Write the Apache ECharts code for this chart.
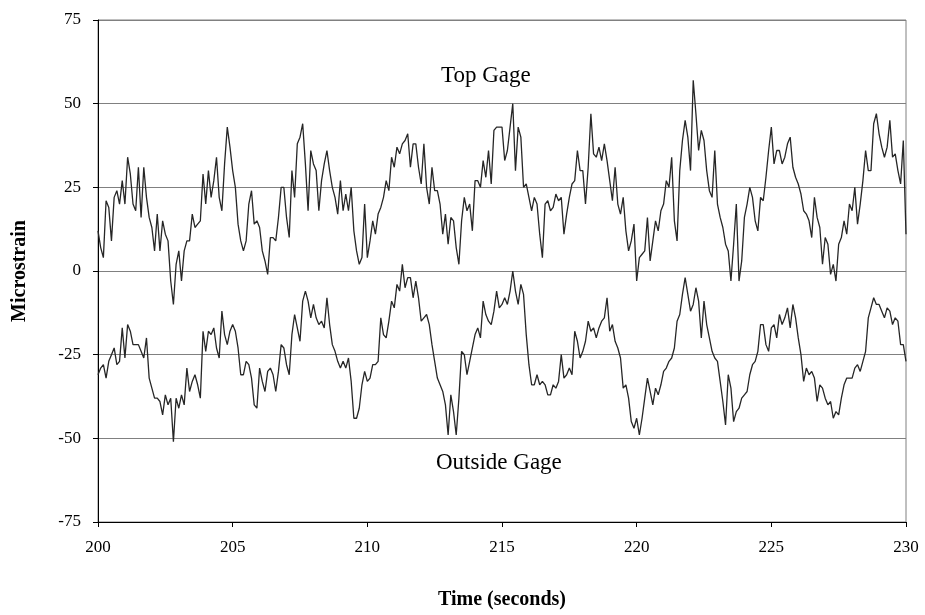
<html>
<head>
    <meta charset="utf-8">
    <title>Microstrain vs time</title>
    <style>
    html, body {
        margin: 0;
        padding: 0;
        background: #ffffff;
    }
    #chart {
        width: 925px;
        height: 615px;
    }
    </style>
    <script src="https://cdn.jsdelivr.net/npm/echarts@6/dist/echarts.min.js"></script>
</head>
<body>
    <div id="chart"></div>
    <script>
    // samples every 0.1 s starting at 200 s
    var startTime = 200;
    var sampleStep = 0.1;
    var yTicks = [-75, -50, -25, 0, 25, 50, 75];
    var xTicks = [200, 205, 210, 215, 220, 225, 230];

    var topGage = [
        12, 7, 4, 21, 19, 9, 22, 24, 20, 27, 20, 34, 29, 20, 18, 31, 16, 31, 22, 16,
        13, 6, 17, 6, 15, 11, 9, -3, -10, 2, 6, -3, 6, 9, 9, 17, 13, 14, 15, 29,
        20, 30, 22, 27, 34, 22, 18, 32, 43, 37,
        30, 25, 14, 9, 6, 9, 20, 24, 14, 15, 13, 6, 3, -1, 10, 10, 9, 16, 25, 25,
        16, 10, 30, 22, 38, 40, 44, 32, 18, 36, 32, 30, 18, 27, 32, 36, 30, 25, 22, 17,
        27, 18, 23, 18, 25, 12, 6, 2, 4, 20,
        4, 9, 15, 11, 17, 19, 22, 27, 24, 34, 31, 37, 35, 38, 39, 41, 31, 38, 38, 31,
        26, 38, 25, 20, 31, 24, 24, 20, 11, 17, 8, 16, 15, 7, 2, 15, 22, 18, 20, 12,
        27, 27, 25, 33, 28, 36, 26, 42, 43, 43,
        43, 33, 36, 43, 50, 30, 43, 40, 25, 26, 22, 18, 22, 20, 11, 4, 20, 21, 18, 19,
        23, 21, 22, 11, 17, 22, 26, 27, 36, 30, 30, 20, 31, 47, 35, 34, 37, 33, 38, 33,
        27, 21, 31, 20, 17, 22, 12, 6, 9, 14,
        -3, 4, 5, 6, 16, 3, 9, 15, 12, 18, 20, 27, 25, 34, 15, 9, 30, 39, 45, 40,
        30, 57, 47, 36, 42, 39, 30, 24, 22, 36, 20, 16, 13, 8, 6, -3, 8, 20, -3, 3,
        16, 20, 25, 22, 15, 12, 22, 21, 28, 36,
        43, 32, 36, 36, 32, 34, 38, 40, 31, 28, 26, 23, 18, 17, 15, 10, 22, 16, 13, 2,
        10, 8, -1, 2, -3, 8, 10, 15, 11, 20, 18, 25, 14, 20, 27, 36, 30, 30, 44, 47,
        41, 37, 34, 37, 45, 34, 35, 30, 26, 39, 11
    ];

    var outsideGage = [
        -31, -29, -28, -32, -27, -25, -23, -28, -27, -17, -26, -16, -18, -22, -22, -22, -24, -26, -20, -32,
        -35, -38, -38, -39, -43, -37, -40, -38, -51, -38, -41, -37, -40, -29, -36, -33, -31, -34, -38, -18,
        -24, -18, -19, -17, -23, -26, -12, -19, -22, -18,
        -16, -18, -23, -31, -31, -27, -28, -32, -40, -41, -29, -33, -36, -30, -29, -31, -36, -30, -22, -23,
        -28, -31, -19, -13, -17, -21, -9, -6, -9, -14, -10, -14, -16, -15, -17, -8, -16, -22, -24, -27,
        -29, -27, -29, -26, -33, -44, -44, -41, -34, -30,
        -33, -32, -28, -28, -27, -14, -19, -20, -15, -9, -11, -4, -6, 2, -5, -2, -2, -8, -3, -8,
        -15, -14, -13, -16, -22, -27, -32, -34, -36, -40, -49, -37, -42, -49, -38, -24, -25, -31, -27, -23,
        -19, -17, -20, -9, -13, -15, -16, -12, -6, -11,
        -10, -8, -10, -6, 0, -6, -10, -4, -7, -19, -28, -34, -34, -31, -34, -33, -34, -37, -37, -34,
        -35, -33, -25, -32, -31, -29, -31, -18, -21, -26, -24, -21, -15, -18, -17, -20, -17, -15, -14, -8,
        -18, -16, -21, -23, -26, -35, -34, -38, -45, -47,
        -44, -49, -44, -38, -32, -36, -40, -35, -37, -34, -30, -29, -27, -26, -23, -15, -13, -7, -2, -7,
        -12, -10, -5, -9, -20, -9, -16, -20, -24, -26, -27, -33, -39, -46, -31, -35, -45, -42, -41, -38,
        -37, -36, -31, -28, -27, -24, -16, -16, -22, -24,
        -17, -16, -20, -13, -16, -14, -11, -17, -10, -14, -20, -25, -33, -29, -31, -30, -32, -39, -34, -35,
        -38, -40, -39, -44, -42, -43, -38, -34, -32, -32, -32, -29, -28, -30, -27, -24, -14, -11, -8, -10,
        -10, -12, -14, -11, -12, -16, -14, -15, -22, -22, -27
    ];

    function pairs(values) {
        var out = [];
        for (var i = 0; i < values.length; i++) {
            out.push([+(startTime + i * sampleStep).toFixed(1), values[i]]);
        }
        return out;
    }

    var myChart = echarts.init(document.getElementById('chart'));
    var serif = '"Liberation Serif", "Times New Roman", serif';

    var lineStyle = { color: '#262626', width: 1.3 };

    var option = {
        animation: false,
        backgroundColor: '#ffffff',
        grid: {
            left: 98,
            right: 19,
            top: 20,
            bottom: 93,
            show: true,
            borderColor: '#808080',
            borderWidth: 1
        },
        xAxis: {
            type: 'value',
            min: xTicks[0],
            max: xTicks[xTicks.length - 1],
            interval: 5,
            name: 'Time (seconds)',
            nameLocation: 'middle',
            nameGap: 68,
            nameTextStyle: {
                fontFamily: serif,
                fontWeight: 'bold',
                fontSize: 20,
                color: '#000'
            },
            axisLine: { onZero: false, lineStyle: { color: '#000', width: 1 } },
            axisTick: { show: true, length: 5, lineStyle: { color: '#000' } },
            axisLabel: {
                margin: 17,
                fontFamily: serif,
                fontSize: 17,
                color: '#000'
            },
            splitLine: { show: false }
        },
        yAxis: {
            type: 'value',
            min: yTicks[0],
            max: yTicks[yTicks.length - 1],
            interval: 25,
            name: 'Microstrain',
            nameLocation: 'middle',
            nameGap: 68,
            nameRotate: 90,
            nameTextStyle: {
                fontFamily: serif,
                fontWeight: 'bold',
                fontSize: 20,
                color: '#000'
            },
            axisLine: { show: true, lineStyle: { color: '#000', width: 1 } },
            axisTick: { show: true, length: 5, lineStyle: { color: '#000' } },
            axisLabel: {
                margin: 17,
                fontFamily: serif,
                fontSize: 17,
                color: '#000'
            },
            splitLine: { show: true, lineStyle: { color: '#808080', width: 1 } }
        },
        series: [
            {
                name: 'Top Gage',
                type: 'line',
                data: pairs(topGage),
                showSymbol: false,
                lineStyle: lineStyle
            },
            {
                name: 'Outside Gage',
                type: 'line',
                data: pairs(outsideGage),
                showSymbol: false,
                lineStyle: lineStyle
            }
        ],
        graphic: [
            {
                type: 'text',
                left: 441,
                top: 64,
                style: { text: 'Top Gage', fontFamily: serif, fontSize: 23, fill: '#000' }
            },
            {
                type: 'text',
                left: 436,
                top: 451,
                style: { text: 'Outside Gage', fontFamily: serif, fontSize: 23, fill: '#000' }
            }
        ]
    };

    myChart.setOption(option);
    </script>
</body>
</html>
